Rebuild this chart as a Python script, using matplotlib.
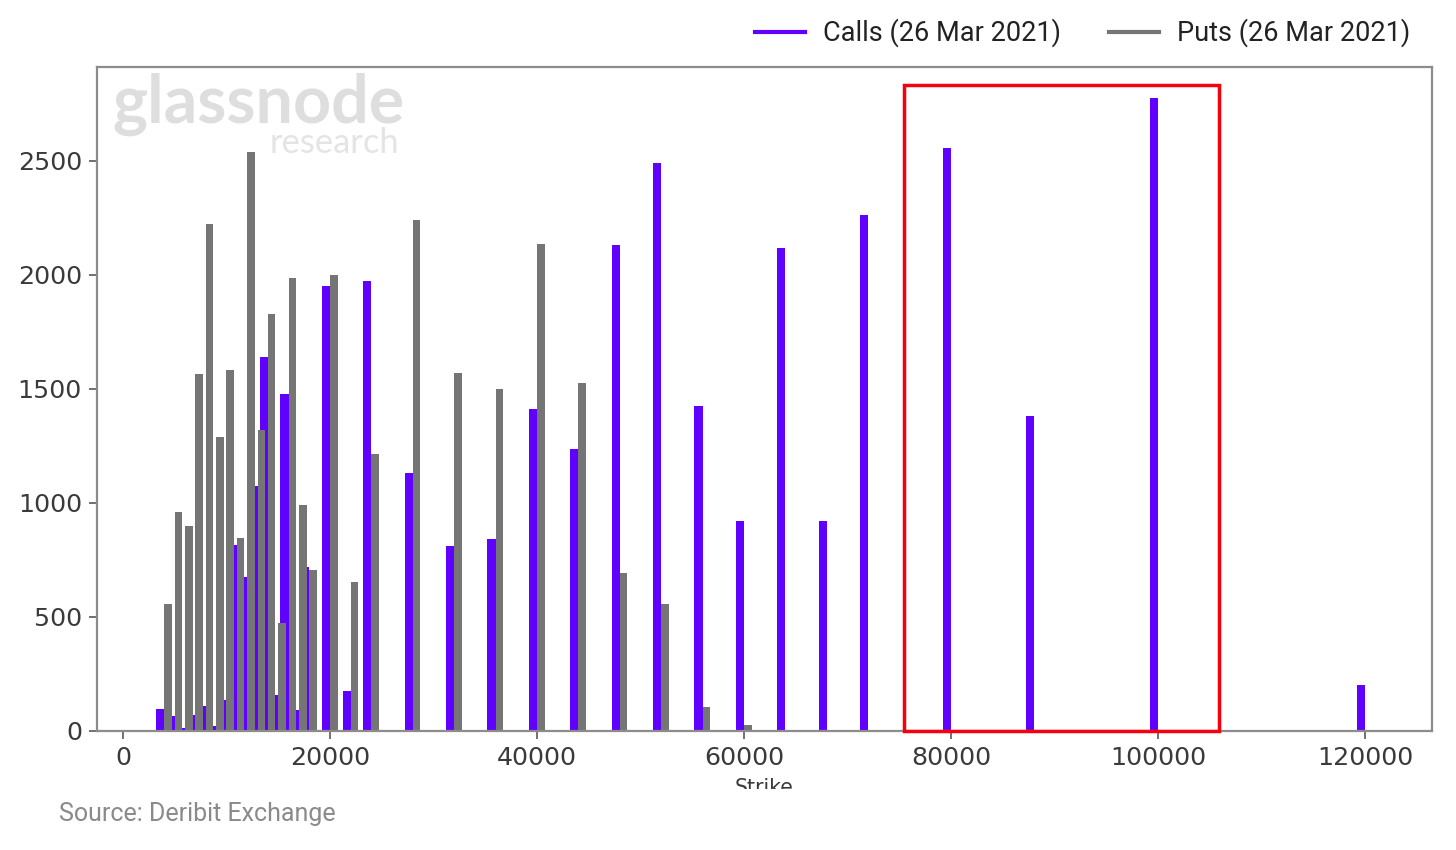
import matplotlib
matplotlib.use("Agg")
import matplotlib.pyplot as plt
from matplotlib.patches import Rectangle
from matplotlib.lines import Line2D

plt.rcParams["font.family"] = ["DejaVu Sans"]

strikes = [4000, 5000, 6000, 7000, 8000, 9000, 10000, 11000, 12000, 13000, 14000, 15000,
           16000, 17000, 18000, 20000, 22000, 24000, 28000, 32000, 36000, 40000, 44000,
           48000, 52000, 56000, 60000, 64000, 68000, 72000, 80000, 88000, 100000, 120000]
calls = [95, 65, 15, 70, 110, 20, 135, 815, 675, 1075, 1640, 160,
         1480, 90, 720, 1950, 175, 1975, 1130, 810, 840, 1410, 1235,
         2130, 2490, 1425, 920, 2120, 920, 2265, 2555, 1380, 2775, 200]
puts = [555, 960, 900, 1565, 2225, 1290, 1585, 845, 2540, 1320, 1830, 475,
        1985, 990, 705, 2000, 655, 1215, 2240, 1570, 1500, 2135, 1525,
        695, 555, 105, 25, 5, 0, 0, 0, 0, 0, 0]
xticks = [0, 20000, 40000, 60000, 80000, 100000, 120000]
yticks = [0, 500, 1000, 1500, 2000, 2500]
highlight_x = (75460, 105900)
highlight_top = 2833

W, H = 1456, 850
PURPLE, GREY = "#6000FF", "#757575"
fig = plt.figure(figsize=(W / 100, H / 100), dpi=100, facecolor="white")
ax = fig.add_axes([97 / W, 1 - 731 / H, (1432 - 97) / W, (731 - 67) / H])

ax.bar(strikes, calls, width=-790, align="edge", color=PURPLE, linewidth=0)
ax.bar(strikes, puts, width=730, align="edge", color=GREY, linewidth=0)
ax.set_xlim(-2512, 126473)
ax.set_ylim(0, 2912)
ax.set_xticks(xticks)
ax.set_yticks(yticks)
ax.tick_params(labelsize=18.2, length=5.8, width=1.3, color="#666666", labelcolor="#3a3a3a", pad=5)
for s in ax.spines.values():
    s.set_color("#8c8c8c")
    s.set_linewidth(1.6)
ax.set_xlabel("Strike", fontsize=14.8, color="#3a3a3a")
ax.xaxis.set_label_coords(0.5, -0.0708)

ax.add_patch(Rectangle((highlight_x[0], 0), highlight_x[1] - highlight_x[0], highlight_top,
                       fill=False, edgecolor="#F5000F", linewidth=2.5, clip_on=False, zorder=5))

# white band that clips the axis label as in the reference
fig.add_artist(Rectangle((0, 0), 1, 1 - 789 / H, transform=fig.transFigure,
                         facecolor="white", edgecolor="none", zorder=5))
fig.text(59 / W, 1 - 814.5 / H, "Source: Deribit Exchange", family="Roboto", fontsize=18,
         color="#8a8a8a", va="center", ha="left", zorder=6)

# watermark
fig.text(112 / W, 1 - 123 / H, "glassnode", family="Lato", weight="bold", fontsize=47.8, color="#dedede",
         va="baseline", ha="left", zorder=6)
fig.text(399 / W, 1 - 153 / H, "research", family="Lato", weight="normal", fontsize=24.8,
         color="#e4e4e4", va="baseline", ha="right", zorder=6)

handles = [Line2D([], [], color=PURPLE, linewidth=3), Line2D([], [], color=GREY, linewidth=3)]
fig.legend(handles, ["Calls (26 Mar 2021)", "Puts (26 Mar 2021)"], ncols=2, frameon=False,
           prop={"family": "Roboto", "size": 19.5}, labelcolor="#222222",
           loc="center right", bbox_to_anchor=(1410 / W, 1 - 33 / H), borderpad=0, borderaxespad=0,
           handlelength=1.85, handletextpad=0.67, columnspacing=1.75)

fig.savefig("out.png", dpi=100)
